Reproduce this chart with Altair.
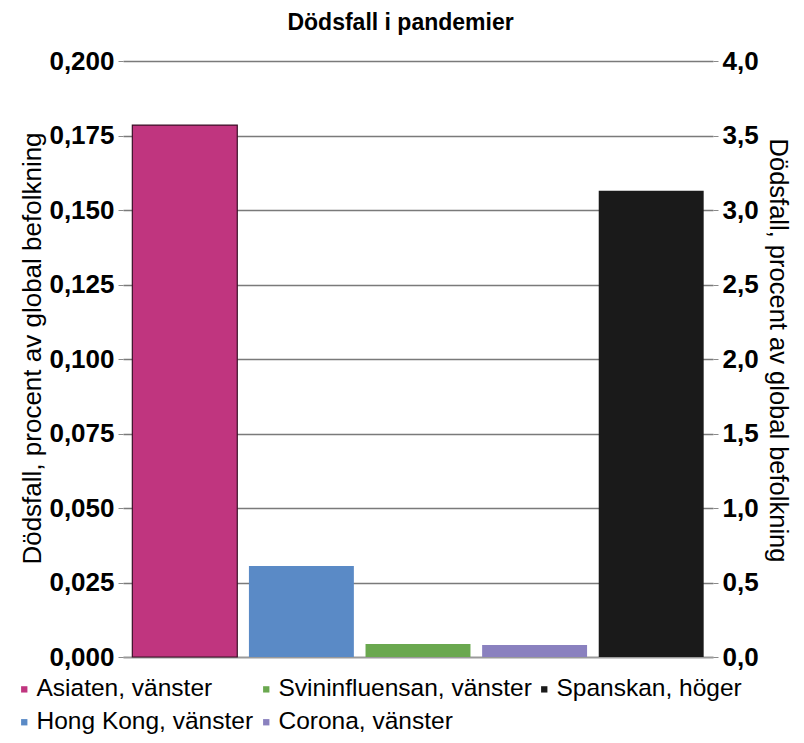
import altair as alt
import pandas as pd

categories = ["Asiaten", "Hong Kong", "Svininfluensan", "Corona", "Spanskan"]
legend_labels = ["Asiaten, vänster", "Hong Kong, vänster", "Svininfluensan, vänster",
                 "Corona, vänster", "Spanskan, höger"]
values = [0.1785, 0.0305, 0.0044, 0.0040, 3.13]
axis_side = ["left", "left", "left", "left", "right"]
colors = ["#C0357F", "#5A8AC6", "#6AA84F", "#8A81BF", "#1A1A1A"]
legend_order = ["Asiaten, vänster", "Svininfluensan, vänster", "Spanskan, höger",
                "Hong Kong, vänster", "Corona, vänster"]
left_ticks = [0, 0.025, 0.05, 0.075, 0.1, 0.125, 0.15, 0.175, 0.2]
right_ticks = [0, 0.5, 1.0, 1.5, 2.0, 2.5, 3.0, 3.5, 4.0]

df = pd.DataFrame({"kategori": categories, "etikett": legend_labels,
                   "varde": values, "sida": axis_side})

FONT = "Liberation Sans, Arial, Helvetica, sans-serif"
ytitle = "Dödsfall, procent av global befolkning"

color_scale = alt.Scale(domain=legend_labels, range=colors)
x_enc = alt.X("kategori:N", sort=categories,
              scale=alt.Scale(domain=categories, paddingInner=0.1, paddingOuter=0.08),
              axis=alt.Axis(title=None, labels=False, ticks=False, domain=True,
                            domainColor="#9a9a9a", domainWidth=1.5, grid=False))
color_enc = alt.Color("etikett:N", scale=color_scale, sort=legend_order,
                      legend=alt.Legend(title=None, orient="none", legendX=-111, legendY=616,
                                        direction="horizontal", columns=3,
                                        symbolType="square", symbolSize=40,
                                        symbolStrokeWidth=0,
                                        labelFont=FONT, labelFontSize=24.5, labelColor="#000",
                                        labelOffset=0, columnPadding=0, rowPadding=8,
                                        labelLimit=400, values=legend_order))

left = alt.Chart(df).transform_filter(alt.datum.sida == "left").mark_bar(
    stroke="#3a1027", strokeWidth=0
).encode(
    x=x_enc,
    y=alt.Y("varde:Q", scale=alt.Scale(domain=[0, 0.2], nice=False),
            axis=alt.Axis(orient="left", title=ytitle, values=left_ticks,
                          labelExpr="replace(format(datum.value, '.3f'), '.', ',')",
                          labelFont=FONT, labelFontSize=26, labelFontWeight="bold",
                          labelColor="#000", labelPadding=4, tickSize=5, tickColor="#8a8a8a",
                          domain=False, grid=True, gridColor="#7a7a7a", gridWidth=1.3,
                          titleFont=FONT, titleFontSize=26, titleFontWeight="normal",
                          titleColor="#000", titlePadding=3, titleY=287)),
    color=color_enc,
    strokeWidth=alt.condition(alt.datum.kategori == "Asiaten", alt.value(1.2), alt.value(0)),
)

right = alt.Chart(df).transform_filter(alt.datum.sida == "right").mark_bar().encode(
    x=x_enc,
    y=alt.Y("varde:Q", scale=alt.Scale(domain=[0, 4.0], nice=False),
            axis=alt.Axis(orient="right", title=ytitle, values=right_ticks,
                          labelExpr="replace(format(datum.value, '.1f'), '.', ',')",
                          labelFont=FONT, labelFontSize=26, labelFontWeight="bold",
                          labelColor="#000", labelPadding=4, tickSize=5, tickColor="#8a8a8a",
                          domain=False, grid=False,
                          titleFont=FONT, titleFontSize=25.5, titleFontWeight="normal",
                          titleColor="#000", titlePadding=6, titleAngle=90, titleY=289)),
    color=color_enc,
)

chart = alt.layer(left, right).resolve_scale(y="independent").properties(
    width=590, height=596,
    autosize=alt.AutoSizeParams(type="none"),
    padding={"left": 115, "top": 53, "right": 83, "bottom": 77},
    title=alt.TitleParams("Dödsfall i pandemier", font=FONT, fontSize=23, fontWeight="bold",
                          color="#000", anchor="middle", frame="bounds", offset=13),
).configure_view(stroke=None).configure_legend(labelFontWeight="normal")

chart.save("out.html", embed_options={"renderer": "svg", "actions": False})
